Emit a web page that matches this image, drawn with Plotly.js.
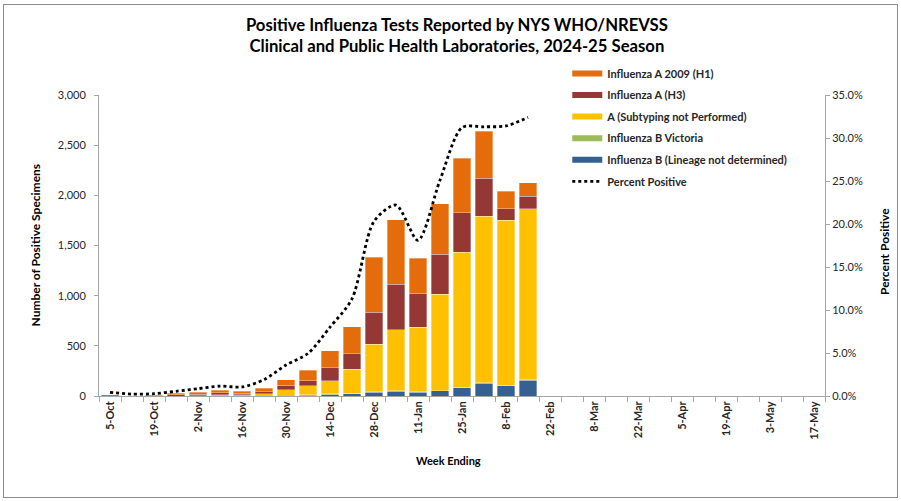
<!DOCTYPE html>
<html>
<head>
<meta charset="utf-8">
<script src="https://cdn.plot.ly/plotly-3.0.1.min.js"></script>
<style>
  html, body { margin: 0; padding: 0; background: #fff; }
  #wrap { position: relative; width: 901px; height: 501px; }
  #chart { width: 901px; height: 501px; }
  #frame { position: absolute; left: 3px; top: 4px; width: 893px; height: 492px; border: 1px solid #8c8c8c; pointer-events: none; }
</style>
</head>
<body>
<div id="wrap"><div id="chart"></div><div id="frame"></div></div>
<script>
// Week-ending categories (full season axis)
const weeks = ['5-Oct','12-Oct','19-Oct','26-Oct','2-Nov','9-Nov','16-Nov','23-Nov','30-Nov','7-Dec',
  '14-Dec','21-Dec','28-Dec','4-Jan','11-Jan','18-Jan','25-Jan','1-Feb','8-Feb','15-Feb',
  '22-Feb','1-Mar','8-Mar','15-Mar','22-Mar','29-Mar','5-Apr','12-Apr','19-Apr','26-Apr',
  '3-May','10-May','17-May'];
// Weeks with reported data
const dataWeeks = weeks.slice(0, 20);

// Series values (number of positive specimens)
const fluBLineageND = [0,0,0,0,0,0,0,0,0,8,14,24,37,47,37,50,85,128,106,159];
const fluBVictoria  = [0,0,0,0,0,0,0,0,0,4,6,3,3,3,3,3,2,2,1,1];
const fluANotSubtyped = [0,0,0,0,4,14,12,20,60,88,133,239,478,611,644,960,1348,1661,1647,1704];
const fluAH3 = [0,0,0,15,12,18,14,22,45,53,129,153,317,452,339,399,392,378,113,129];
const fluAH1 = [12,4,8,12,22,26,22,36,56,106,170,272,548,645,352,505,541,469,176,130];
// Percent positive (fraction)
const percentPositive = [0.0043,0.0022,0.0027,0.0055,0.0085,0.0115,0.0105,0.019,0.036,0.0495,
  0.080,0.113,0.203,0.222,0.181,0.251,0.312,0.313,0.314,0.324];

// Tick labels: every other week
const tickLabels = weeks.map((w, i) => (i % 2 === 0 ? w : ''));

const names = ['Influenza A 2009 (H1)','Influenza A (H3)','A (Subtyping not Performed)','Influenza B Victoria','Influenza B (Lineage not determined)'];
const colors = {
  h1: '#E46C0A', h3: '#953735', ns: '#FFC000', bv: '#9BBB59', bl: '#376092'
};

function bar(y, color, name) {
  return { type: 'bar', x: dataWeeks, y: y, name: name, showlegend: false,
    marker: { color: color, line: { color: 'rgba(255,255,255,0.55)', width: 0.6 } },
    hoverinfo: 'x+y+name' };
}
function proxy(color, name) {
  return { type: 'scatter', mode: 'lines', x: [null], y: [null], name: name,
    line: { color: color, width: 6 }, hoverinfo: 'skip', legendgroup: name };
}

const traces = [
  bar(fluBLineageND, colors.bl, names[4]),
  bar(fluBVictoria, colors.bv, names[3]),
  bar(fluANotSubtyped, colors.ns, names[2]),
  bar(fluAH3, colors.h3, names[1]),
  bar(fluAH1, colors.h1, names[0]),
  proxy(colors.h1, names[0]),
  proxy(colors.h3, names[1]),
  proxy(colors.ns, names[2]),
  proxy(colors.bv, names[3]),
  proxy(colors.bl, names[4]),
  { type: 'scatter', mode: 'lines', x: dataWeeks, y: percentPositive, yaxis: 'y2',
    name: 'Percent Positive', legendgroup: 'pp',
    line: { color: '#000000', width: 2.8, dash: 'dot', shape: 'spline', smoothing: 0.8 } }
];

const FONT = 'Lato, "Open Sans", "Liberation Sans", sans-serif';
const layout = {
  width: 901, height: 501,
  margin: { l: 99, r: 76, t: 95, b: 105 },
  paper_bgcolor: '#ffffff', plot_bgcolor: '#ffffff',
  font: { family: FONT, color: '#262626', size: 11 },
  barmode: 'stack', bargap: 0.22,
  title: { text: 'Positive Influenza Tests Reported by NYS WHO/NREVSS<br>Clinical and Public Health Laboratories, 2024-25 Season',
    font: { family: FONT, size: 16.7, weight: 'bold', color: '#000000' },
    x: 0.493, xref: 'paper', xanchor: 'center', y: 0.939, yref: 'container', yanchor: 'middle' },
  xaxis: { type: 'category', categoryorder: 'array', categoryarray: weeks,
    range: [-0.5, weeks.length - 0.5], tickmode: 'array', tickvals: weeks, ticktext: tickLabels,
    tickangle: -90, tickson: 'boundaries', ticks: 'outside', ticklen: 5, tickcolor: '#a6a6a6',
    showline: true, linecolor: '#a6a6a6', linewidth: 1, showgrid: false, zeroline: false,
    tickfont: { family: FONT, size: 11, weight: 'bold', color: '#262626' }, fixedrange: true },
  yaxis: { range: [0, 3000], dtick: 500, tickformat: ',d', ticks: 'outside', ticklen: 4,
    ticklabelstandoff: 6,
    tickcolor: '#a6a6a6', showline: true, linecolor: '#a6a6a6', showgrid: false, zeroline: false,
    tickfont: { family: FONT, size: 11, color: '#262626' } },
  yaxis2: { overlaying: 'y', side: 'right', range: [0, 0.35], dtick: 0.05, tickformat: '.1%',
    ticks: 'outside', ticklen: 4, tickcolor: '#a6a6a6', showline: true, linecolor: '#a6a6a6',
    showgrid: false, zeroline: false, tickfont: { family: FONT, size: 11, color: '#262626' } },
  legend: { x: 0.645, xanchor: 'left', y: 1.12, yanchor: 'top', traceorder: 'grouped',
    tracegroupgap: 2.6, bgcolor: 'rgba(0,0,0,0)',
    font: { family: FONT, size: 11, weight: 'bold', color: '#262626' } },
  annotations: [
    { text: 'Number of Positive Specimens', textangle: -90, xref: 'paper', yref: 'paper',
      x: (35 - 99) / 726, y: 0.5, xanchor: 'center', yanchor: 'middle', showarrow: false,
      font: { family: FONT, size: 12, weight: 'bold', color: '#000' } },
    { text: 'Percent Positive', textangle: -90, xref: 'paper', yref: 'paper',
      x: (884 - 99) / 726, y: (396 - 252) / 301, xanchor: 'center', yanchor: 'middle', showarrow: false,
      font: { family: FONT, size: 12, weight: 'bold', color: '#000' } },
    { text: 'Week Ending', xref: 'paper', yref: 'paper',
      x: (448 - 99) / 726, y: (396 - 460) / 301, xanchor: 'center', yanchor: 'middle', showarrow: false,
      font: { family: FONT, size: 11, weight: 'bold', color: '#000' } }
  ],
  showlegend: true
};

Plotly.newPlot('chart', traces, layout, { displayModeBar: false, staticPlot: true });
</script>
</body>
</html>
